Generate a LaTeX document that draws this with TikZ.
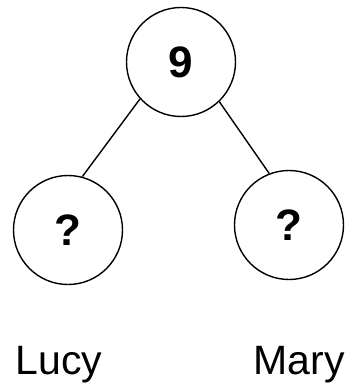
\documentclass[tikz,border=0pt]{standalone}
\usepackage{fontspec}
\setmainfont{Liberation Sans}
\usepackage{xcolor}

\begin{document}
\begin{tikzpicture}[x=1pt, y=-1pt,
      every node/.style = {inner sep=0pt,
        font=\fontsize{41}{48}\selectfont},
      ball/.style = {shape=circle, draw, line width=1.4pt,
        minimum size=109pt, font=\fontsize{44}{50}\selectfont\bfseries},
      girl/.style = {anchor=base}]
  \useasboundingbox (0,0) rectangle (345,385);
  \node[ball] (total) at (181,62) {9};
  \node[ball] (lucyq) at (68,230) {?};
  \node[ball] (maryq) at (289,225) {?};
  \node[girl] (lucy) at (59,374) {Lucy};
  \node[girl] (mary) at (299,374) {Mary};
  \draw[line width=1.4pt] (total.222) -- (lucyq.75);
  \draw[line width=1.4pt] (total.314) -- (maryq.111);
\end{tikzpicture}
\end{document}
